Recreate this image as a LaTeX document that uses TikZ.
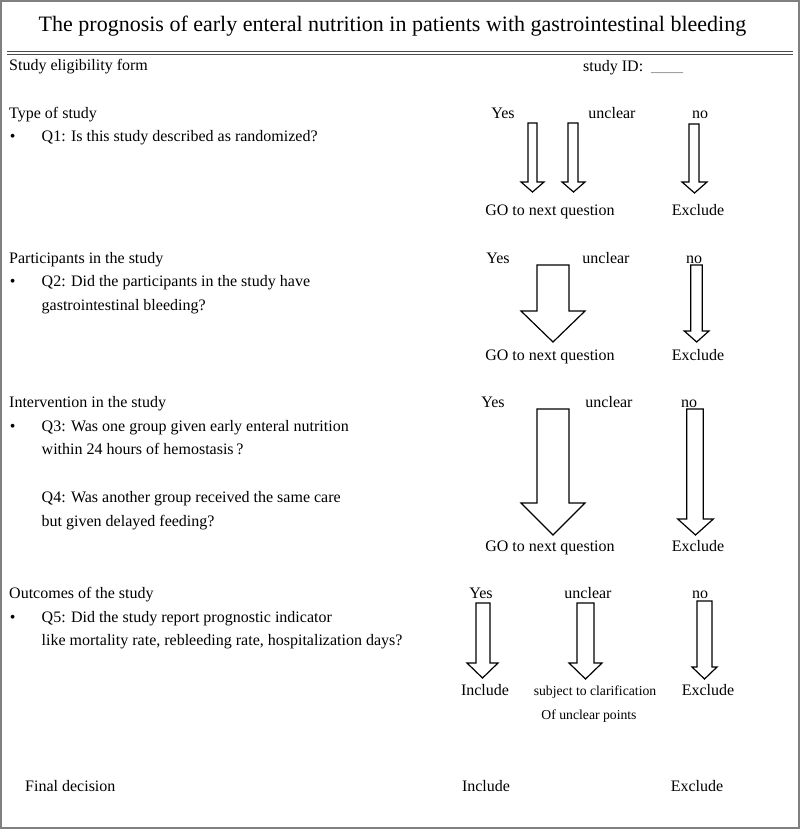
\documentclass[tikz,border=0pt]{standalone}
\usepackage{fontspec}
\setmainfont{Liberation Serif}
\newcommand{\dnblock}[7]{% xl, xr, top, headstart, hl, hr, tip
  \draw[barrow] (#1,#3) -- (#2,#3) -- (#2,#4) -- (#6,#4) -- ({(#5+#6)/2},#7) -- (#5,#4) -- (#1,#4) -- cycle;}
\begin{document}
\begin{tikzpicture}[x=1pt,y=-1pt,
  txt/.style={anchor=base west,inner sep=0pt,font=\fontsize{16}{19}\selectfont},
  lbl/.style={anchor=base,inner sep=0pt,font=\fontsize{16}{19}\selectfont},
  smalllbl/.style={anchor=base,inner sep=0pt,font=\fontsize{13.7}{16}\selectfont},
  titletxt/.style={anchor=base,inner sep=0pt,font=\fontsize{22}{26}\selectfont},
  barrow/.style={draw=black,line width=1.2pt,fill=white,line join=miter}]
\useasboundingbox (0,0) rectangle (800,829);
\draw[gray,line width=2pt] (1,1) rectangle (799,828);
% title
\node[titletxt] (title) at (392.5,32) {The prognosis of early enteral nutrition in patients with gastrointestinal bleeding};
\draw[black!70,line width=1pt] (7,51.5) -- (793,51.5);
\draw[black!70,line width=1pt] (7,54.5) -- (793,54.5);
\node[txt] (form) at (9,71) {Study eligibility form};
\node[txt] (sid) at (583,72) {study ID:\ \ \textcolor{gray}{\_\_\_\_}};
% section 1
\node[txt] (s1) at (9,118.5) {Type of study};
\node[lbl] (b1) at (12.7,142) {•};
\node[txt] (q1) at (41.5,142) {Q1: Is this study described as randomized?};
\node[lbl] (y1) at (503,119) {Yes};
\node[lbl] (u1) at (612,119) {unclear};
\node[lbl] (n1) at (700,119) {no};
\dnblock{528}{537}{123}{182}{521}{544}{192}
\dnblock{568}{578}{123}{182}{562}{585}{192}
\dnblock{689}{699}{124}{182}{682}{707}{193}
\node[lbl] (go1) at (550,215.5) {GO to next question};
\node[lbl] (ex1) at (698,215.5) {Exclude};
% section 2
\node[txt] (s2) at (9,263) {Participants in the study};
\node[lbl] (b2) at (12.7,286.5) {•};
\node[txt] (q2) at (41.5,286.5) {Q2: Did the participants in the study have};
\node[txt] (q2b) at (41.5,310) {gastrointestinal bleeding?};
\node[lbl] (y2) at (498,263) {Yes};
\node[lbl] (u2) at (606,263) {unclear};
\node[lbl] (n2) at (694,263) {no};
\dnblock{537}{569}{265}{311}{521}{585}{342}
\dnblock{690.7}{702.3}{265}{331}{684.3}{709}{342}
\node[lbl] (go2) at (550,360) {GO to next question};
\node[lbl] (ex2) at (698,360) {Exclude};
% section 3
\node[txt] (s3) at (9,407.5) {Intervention in the study};
\node[lbl] (b3) at (12.7,431) {•};
\node[txt] (q3) at (41.5,431) {Q3: Was one group given early enteral nutrition};
\node[txt] (q3b) at (41.5,454.5) {within 24 hours of hemostasis\,?};
\node[txt] (q4) at (41.5,502.5) {Q4: Was another group received the same care};
\node[txt] (q4b) at (41.5,526) {but given delayed feeding?};
\node[lbl] (y3) at (493,407.5) {Yes};
\node[lbl] (u3) at (609,407.5) {unclear};
\node[lbl] (n3) at (689,407.5) {no};
\dnblock{537}{569}{409}{503}{521}{585}{535}
\dnblock{686.7}{703.3}{409}{519}{677.7}{713.3}{535}
\node[lbl] (go3) at (550,551) {GO to next question};
\node[lbl] (ex3) at (698,551) {Exclude};
% section 4
\node[txt] (s4) at (9,598.5) {Outcomes of the study};
\node[lbl] (b4) at (12.7,622.5) {•};
\node[txt] (q5) at (41.5,622.5) {Q5: Did the study report prognostic indicator};
\node[txt] (q5b) at (41.5,645.5) {like mortality rate, rebleeding rate, hospitalization days?};
\node[lbl] (y4) at (481,598.5) {Yes};
\node[lbl] (u4) at (588,598.5) {unclear};
\node[lbl] (n4) at (700,598.5) {no};
\dnblock{476}{490}{603}{663}{467}{498}{678}
\dnblock{577}{594}{603}{663}{569}{602}{679}
\dnblock{697}{712}{601}{667}{692}{717}{679}
\node[lbl] (in4) at (485,695.5) {Include};
\node[smalllbl] (sc4) at (595,695) {subject to clarification};
\node[smalllbl] (sc4b) at (589,719) {Of unclear points};
\node[lbl] (ex4) at (708,695.5) {Exclude};
% final
\node[txt] (fd) at (25,791) {Final decision};
\node[lbl] (fin) at (486,791) {Include};
\node[lbl] (fex) at (697,791) {Exclude};
\end{tikzpicture}
\end{document}
